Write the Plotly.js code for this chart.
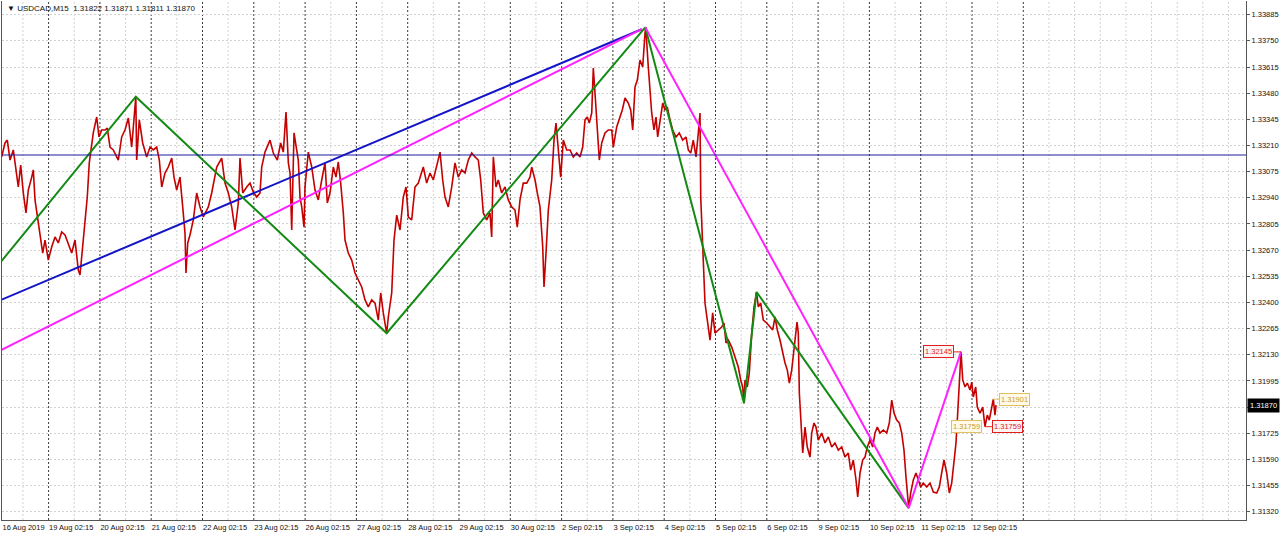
<!DOCTYPE html>
<html>
<head>
<meta charset="utf-8">
<script src="https://cdn.plot.ly/plotly-3.0.1.min.js"></script>
<style>
html,body{margin:0;padding:0;background:#fff;}
#chart{width:1280px;height:535px;}
</style>
</head>
<body>
<div id="chart"></div>
<script>
// ---- DATA ----
// time axis: trading-day index (0 = 16 Aug 2019, 1 = 19 Aug, ... 19 = 12 Sep), fractional = intraday
const dayLabels = ["19 Aug 02:15","20 Aug 02:15","21 Aug 02:15","22 Aug 02:15","23 Aug 02:15",
  "26 Aug 02:15","27 Aug 02:15","28 Aug 02:15","29 Aug 02:15","30 Aug 02:15",
  "2 Sep 02:15","3 Sep 02:15","4 Sep 02:15","5 Sep 02:15","6 Sep 02:15",
  "9 Sep 02:15","10 Sep 02:15","11 Sep 02:15","12 Sep 02:15"];
const firstLabel = "16 Aug 2019";
const separatorCount = 20; // day separators incl. the one after 12 Sep

const priceTime = [0.086,0.150,0.195,0.248,0.312,0.345,0.409,0.456,0.507,0.559,0.604,0.671,0.702,0.735,0.780,0.832,0.885,0.930,0.994,
1.060,1.125,1.189,1.255,1.320,1.384,1.450,1.515,1.579,1.612,1.645,1.710,1.754,1.793,1.871,1.938,1.982,
2.035,2.099,2.144,2.197,2.261,2.359,2.425,2.489,2.554,2.620,2.700,2.717,2.768,2.834,2.912,2.977,
3.041,3.107,3.158,3.205,3.269,3.333,3.400,3.444,3.497,3.561,3.614,3.659,3.678,3.712,3.756,3.821,3.887,3.951,
4.016,4.113,4.179,4.277,4.374,4.439,4.503,4.569,4.634,4.698,4.731,4.784,4.862,4.926,4.990,
5.057,5.121,5.154,5.218,5.316,5.380,5.458,5.524,5.575,5.628,5.673,5.706,5.739,5.784,5.823,5.867,5.901,5.934,5.979,5.998,
6.062,6.129,6.193,6.257,6.324,6.388,6.433,6.485,6.550,6.602,6.647,6.694,6.745,6.778,6.842,6.908,6.973,
7.037,7.103,7.168,7.232,7.298,7.363,7.427,7.474,7.524,7.590,7.622,7.688,7.733,7.786,7.850,7.914,7.967,
8.012,8.078,8.142,8.207,8.273,8.304,8.370,8.435,8.499,8.565,8.630,8.682,8.727,8.791,8.858,8.922,8.986,
9.053,9.117,9.181,9.248,9.312,9.376,9.423,9.474,9.540,9.604,9.637,9.669,9.721,9.766,9.832,9.897,9.961,
10.027,10.092,10.136,10.189,10.253,10.320,10.384,10.417,10.482,10.526,10.579,10.632,10.657,10.696,10.741,10.807,10.852,10.891,10.936,10.982,
11.033,11.099,11.164,11.228,11.294,11.359,11.411,11.456,11.501,11.540,11.587,11.618,11.651,11.684,11.735,11.782,11.846,11.910,11.977,
12.008,12.074,12.138,12.183,12.236,12.300,12.347,12.386,12.431,12.476,12.528,12.581,12.626,12.640,12.690,12.723,12.756,12.801,12.840,12.873,12.918,12.971,
13.016,13.060,13.113,13.166,13.230,13.294,13.361,13.425,13.470,13.517,13.567,13.620,13.665,13.698,13.712,13.737,13.762,13.795,13.840,13.893,13.945,13.990,
14.055,14.121,14.166,14.205,14.250,14.316,14.380,14.444,14.491,14.530,14.556,14.575,14.620,14.659,14.706,14.751,14.800,14.834,14.881,14.932,14.998,
15.062,15.115,15.160,15.205,15.257,15.310,15.355,15.400,15.439,15.485,15.530,15.569,15.589,15.614,15.634,15.661,15.700,15.745,15.789,15.842,15.875,15.920,15.959,
16.004,16.070,16.135,16.199,16.265,16.329,16.394,16.460,16.524,16.589,16.635,16.686,16.739,16.772,16.817,16.869,16.914,16.959,
17.012,17.064,17.109,17.154,17.207,17.271,17.337,17.388,17.435,17.480,17.532,17.583,17.630,17.674,17.713,17.739,17.766,17.805,17.856,17.908,17.953,
18.000,18.051,18.117,18.181,18.246,18.312,18.363,18.409,18.454,18.507,18.558,18.604,18.649,18.688,18.721,18.753,18.786,18.819,18.864,18.908,18.961,18.994,
19.025,19.072,19.103,19.156,19.209,19.253,19.298,19.337,19.384,19.415,19.448,19.468];

const priceClose = [1.33152,1.33223,1.33238,1.33135,1.33187,1.33125,1.32996,1.33109,1.32965,1.32862,1.32980,1.33047,1.33084,1.32929,1.32841,1.32758,1.32655,1.32722,1.32619,
1.32686,1.32738,1.32707,1.32764,1.32748,1.32707,1.32655,1.32722,1.32567,1.32542,1.32635,1.32826,1.32944,1.33120,1.33275,1.33357,1.33254,
1.33290,1.33290,1.33300,1.33202,1.33187,1.33135,1.33254,1.33290,1.33352,1.33202,1.33462,1.33135,1.33342,1.33223,1.33151,1.33202,
1.33187,1.33202,1.33135,1.32996,1.33068,1.33099,1.33145,1.33047,1.32980,1.33047,1.32893,1.32758,1.32552,1.32707,1.32748,1.32826,1.32965,1.32893,
1.32841,1.32893,1.32965,1.33099,1.33145,1.33016,1.32965,1.32893,1.32774,1.32913,1.33145,1.32965,1.32996,1.33016,1.32970,
1.32944,1.32965,1.33099,1.33176,1.33238,1.33171,1.33135,1.33223,1.33176,1.33383,1.33120,1.33068,1.32774,1.33275,1.33202,1.33135,1.32944,1.32893,1.32789,1.32996,
1.33176,1.33099,1.32980,1.32929,1.33032,1.33120,1.32913,1.32965,1.33099,1.33047,1.33125,1.33016,1.32862,1.32722,1.32655,1.32619,1.32552,
1.32516,1.32480,1.32413,1.32377,1.32413,1.32397,1.32309,1.32449,1.32346,1.32241,1.32325,1.32449,1.32722,1.32851,1.32774,1.32944,1.32996,
1.32841,1.32826,1.32996,1.33016,1.33068,1.33099,1.33016,1.33068,1.33032,1.33099,1.33176,1.33032,1.32944,1.32893,1.32996,1.33120,1.33047,
1.33084,1.33068,1.33135,1.33171,1.33151,1.33135,1.33032,1.32862,1.32826,1.32862,1.32738,1.33151,1.32996,1.33032,1.32965,1.32996,1.32929,
1.32893,1.32877,1.32789,1.32929,1.33016,1.33016,1.33047,1.33099,1.33032,1.32965,1.32893,1.32686,1.32480,1.32655,1.32877,1.33032,1.33238,1.33326,1.33171,1.33047,
1.33238,1.33187,1.33187,1.33151,1.33171,1.33151,1.33202,1.33342,1.33357,1.33326,1.33378,1.33610,1.33481,1.33342,1.33135,1.33223,1.33275,1.33290,1.33290,
1.33202,1.33306,1.33357,1.33393,1.33455,1.33429,1.33393,1.33290,1.33512,1.33548,1.33651,1.33615,1.33791,1.33820,1.33615,1.33512,1.33378,1.33290,1.33357,1.33254,1.33342,1.33429,
1.33393,1.33409,1.33342,1.33290,1.33254,1.33275,1.33238,1.33254,1.33187,1.33171,1.33238,1.33151,1.33275,1.33378,1.32944,1.32789,1.32655,1.32397,1.32309,1.32206,1.32346,1.32242,
1.32258,1.32273,1.32294,1.32191,1.32206,1.32170,1.32118,1.32067,1.32000,1.31964,1.31880,1.32000,1.31964,1.32036,1.32242,1.32377,1.32454,1.32377,1.32397,1.32309,1.32294,
1.32273,1.32258,1.32325,1.32258,1.32206,1.32139,1.32088,1.32051,1.31984,1.32051,1.32170,1.32273,1.32299,1.32242,1.31933,1.31809,1.31623,1.31757,1.31654,1.31602,1.31726,1.31778,1.31757,
1.31690,1.31726,1.31675,1.31706,1.31654,1.31675,1.31638,1.31654,1.31602,1.31623,1.31535,1.31587,1.31484,1.31396,1.31520,1.31587,1.31602,1.31654,
1.31690,1.31654,1.31726,1.31757,1.31726,1.31742,1.31726,1.31778,1.31896,1.31829,1.31793,1.31778,1.31726,1.31638,1.31499,1.31432,1.31339,1.31417,1.31484,1.31520,1.31484,
1.31448,1.31468,1.31448,1.31468,1.31422,1.31417,1.31448,1.31520,1.31587,1.31520,1.31417,1.31468,1.31571,1.31675,1.31829,1.31984,1.32145,1.32000,1.31964,1.31984,1.31948,1.31989,
1.31912,1.31964,1.31860,1.31829,1.31860,1.31759,1.31819,1.31793,1.31860,1.31901,1.31819,1.31870];

// ZigZag (green) swing points
const zigTime  = [0.053, 2.700, 7.590, 12.630, 14.556, 14.800, 17.766];
const zigPrice = [1.32604, 1.33462, 1.32241, 1.33820, 1.31880, 1.32454, 1.31339];
// Magenta zigzag (last legs)
const magZigTime  = [12.630, 17.766, 18.786];
const magZigPrice = [1.33820, 1.31339, 1.32145];
// Trend lines
const blueTrendTime  = [0.053, 12.561];
const blueTrendPrice = [1.32411, 1.33810];
const magTrendTime  = [0.053, 12.561];
const magTrendPrice = [1.32151, 1.33810];
// Horizontal level
const hLevel = 1.33161;
// Price labels
const highLabel = 1.32145, highLabelTime = 18.786;
const lowLabel = 1.31759, lowLabelTime = 19.253;
const midLabel = 1.31901, midLabelTime = 19.415;
const lastPrice = 1.31870;
const header = "\u25BC USDCAD,M15  1.31822 1.31871 1.31811 1.31870";
const yTicks = [1.31320,1.31455,1.31590,1.31725,1.31860,1.31995,1.32130,1.32265,1.32400,1.32535,
  1.32670,1.32805,1.32940,1.33075,1.33210,1.33345,1.33480,1.33615,1.33750,1.33885];

// ---- LAYOUT ----
const xMin = 0.0916, xMax = 24.341;
const yMin = 1.312774, yMax = 1.339557;
const FONT = "Liberation Sans, Arial, sans-serif";

const shapes = [];
// light half-day grid
for (let k = 0; k <= 48; k++) {
  const d = k / 2;
  if (d <= xMin || d >= xMax) continue;
  const isSep = Number.isInteger(d) && d >= 1 && d <= separatorCount;
  if (isSep) continue;
  shapes.push({type:'line', xref:'x', yref:'paper', x0:d, x1:d, y0:0, y1:1,
    line:{color:'#d2d2d2', width:1, dash:'2px,2px'}, layer:'below'});
}
// day separators
for (let d = 1; d <= separatorCount; d++) {
  shapes.push({type:'line', xref:'x', yref:'paper', x0:d, x1:d, y0:0, y1:1,
    line:{color:'#3a3a3a', width:1, dash:'2px,2px'}, layer:'below'});
}
// horizontal level
shapes.push({type:'line', xref:'paper', yref:'y', x0:0, x1:1, y0:hLevel, y1:hLevel,
  line:{color:'#1c1ca0', width:1.2}});
// label leader lines
shapes.push({type:'line', xref:'x', yref:'y', x0:highLabelTime-0.14, x1:highLabelTime, y0:highLabel, y1:highLabel,
  line:{color:'#e02020', width:1}});
shapes.push({type:'line', xref:'x', yref:'y', x0:midLabelTime-0.02, x1:midLabelTime+0.12, y0:midLabel, y1:midLabel,
  line:{color:'#e0c060', width:1}});
shapes.push({type:'line', xref:'x', yref:'y', x0:lowLabelTime, x1:lowLabelTime+0.14, y0:lowLabel, y1:lowLabel,
  line:{color:'#e02020', width:1}});

const traces = [
  {x: priceTime, y: priceClose, mode:'lines', line:{color:'#c40000', width:1.6}, hoverinfo:'skip'},
  {x: blueTrendTime, y: blueTrendPrice, mode:'lines', line:{color:'#1414c8', width:2}, hoverinfo:'skip'},
  {x: magTrendTime, y: magTrendPrice, mode:'lines', line:{color:'#ff22ff', width:2}, hoverinfo:'skip'},
  {x: zigTime, y: zigPrice, mode:'lines', line:{color:'#138a13', width:2}, hoverinfo:'skip'},
  {x: magZigTime, y: magZigPrice, mode:'lines', line:{color:'#ff22ff', width:2}, hoverinfo:'skip'}
];

const lblFont = {family: FONT, size: 7.5};
const annotations = [
  {xref:'paper', yref:'paper', x:0, y:1, xanchor:'left', yanchor:'top', xshift:3, yshift:-1,
   text: header, showarrow:false, font:{family:FONT, size:8, color:'#111'}},
  {xref:'x', yref:'y', x:highLabelTime-0.14, y:highLabel, xanchor:'right', yanchor:'middle',
   text: highLabel.toFixed(5), showarrow:false, font:Object.assign({color:'#e02020'}, lblFont),
   bgcolor:'#fff4f4', bordercolor:'#e02020', borderwidth:1, borderpad:1},
  {xref:'x', yref:'y', x:midLabelTime+0.12, y:midLabel, xanchor:'left', yanchor:'middle',
   text: midLabel.toFixed(5), showarrow:false, font:Object.assign({color:'#c89a30'}, lblFont),
   bgcolor:'#fffbe8', bordercolor:'#e0c060', borderwidth:1, borderpad:1},
  {xref:'x', yref:'y', x:lowLabelTime-0.05, y:lowLabel, xanchor:'right', yanchor:'middle',
   text: lowLabel.toFixed(5), showarrow:false, font:Object.assign({color:'#c89a30'}, lblFont),
   bgcolor:'#fffbe8', bordercolor:'#e0c060', borderwidth:1, borderpad:1},
  {xref:'x', yref:'y', x:lowLabelTime+0.14, y:lowLabel, xanchor:'left', yanchor:'middle',
   text: lowLabel.toFixed(5), showarrow:false, font:Object.assign({color:'#e02020'}, lblFont),
   bgcolor:'#fff4f4', bordercolor:'#e02020', borderwidth:1, borderpad:1},
  {xref:'paper', yref:'y', x:1, y:lastPrice, xanchor:'left', yanchor:'middle', xshift:1,
   text: lastPrice.toFixed(5), showarrow:false, font:{family:FONT, size:7.5, color:'#fff'},
   bgcolor:'#000', borderpad:2}
];

const layout = {
  width:1280, height:535,
  margin:{l:2, r:34, t:1, b:15},
  paper_bgcolor:'#fff', plot_bgcolor:'#fff',
  showlegend:false,
  xaxis:{range:[xMin, xMax], showgrid:false, zeroline:false,
    tickmode:'array', tickvals:[xMin].concat(dayLabels.map((_, i) => i + 1)),
    ticktext:[firstLabel].concat(dayLabels),
    ticks:'', ticklabelposition:'outside right', tickangle:0,
    tickfont:{family:FONT, size:7.5, color:'#111'},
    showline:true, linecolor:'#555', linewidth:1},
  yaxis:{range:[yMin, yMax], side:'right', zeroline:false,
    tickmode:'array', tickvals:yTicks, ticktext:yTicks.map(v => v.toFixed(5)),
    showgrid:true, gridcolor:'#d2d2d2', griddash:'2px,2px', gridwidth:1,
    ticks:'outside', ticklen:3, tickcolor:'#555',
    tickfont:{family:FONT, size:7.5, color:'#111'},
    showline:true, mirror:true, linecolor:'#555', linewidth:1},
  shapes: shapes,
  annotations: annotations
};

Plotly.newPlot('chart', traces, layout, {staticPlot:true, displayModeBar:false});
</script>
</body>
</html>
